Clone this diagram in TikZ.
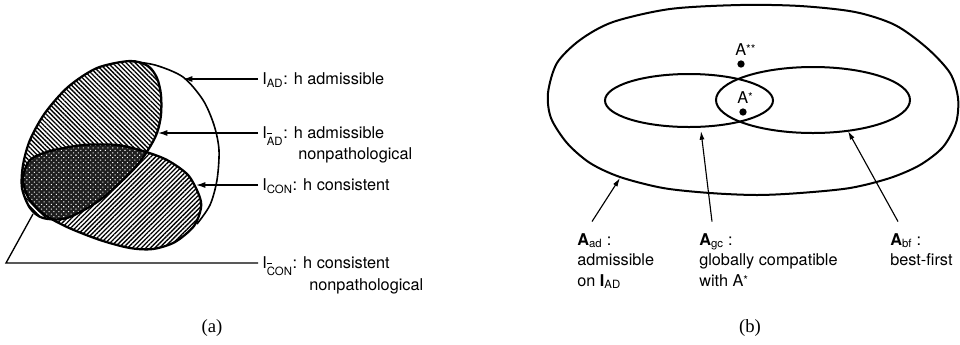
\documentclass[tikz,border=0pt]{standalone}
\usepackage{fontspec}
\setmainfont{TeX Gyre Heros}
\newfontfamily\capfont{Liberation Serif}
\usetikzlibrary{arrows.meta,patterns.meta}
\newcommand\barsub[1]{\textsubscript{\rlap{\hspace{0.4pt}\raisebox{8.6pt}{\rule{3.2pt}{0.7pt}}}#1}}
\newcommand\starmark[1]{{\raisebox{1.2pt}{\fontsize{9pt}{9pt}\selectfont #1}}}
\tikzset{
  lab/.style={font=\fontsize{12.2pt}{14pt}\selectfont, inner xsep=3pt, inner ysep=0pt, text height=8.5pt, text depth=0pt, anchor=west},
  blab/.style={font=\fontsize{12.2pt}{14pt}\selectfont, inner sep=0pt, anchor=base west},
  arra/.style={line width=1pt, -{Latex[length=7pt,width=4.5pt]}},
  arrb/.style={line width=0.85pt, -{Latex[length=6.5pt,width=3.8pt]}},
  region/.style={line width=1.7pt},
  ring/.style={line width=1.5pt},
  ptdot/.style={circle, fill, inner sep=0pt, minimum size=5.5pt},
  capt/.style={font=\capfont\fontsize{14pt}{16pt}\selectfont, inner sep=0pt}
}
\def\Upath{plot[smooth cycle] coordinates {(130,61) (148,66) (157,78) (161,95) (161,115) (157,133) (148,150) (133,170) (100,200) (67,218) (43,218) (30,208) (22,188) (23,165) (30,140) (45,113) (68,87) (97,68)}}
\def\Lpath{plot[smooth cycle] coordinates {(23,178) (30,160) (50,151) (83,145) (117,145) (143,151) (167,160) (188,175) (199,195) (201,208) (194,226) (175,242) (153,249) (130,248) (100,240) (67,227) (42,213) (28,197)}}
\begin{document}
\begin{tikzpicture}[x=0.75pt,y=-0.75pt]
\useasboundingbox (0,0) rectangle (960,344);
% ---------- panel (a) ----------
\path[pattern={Lines[angle=-45,distance=2.4pt,line width=1pt]}] \Upath;
\path[pattern={Lines[angle=45,distance=2.4pt,line width=1pt]}] \Lpath;
\begin{scope}
  \clip \Upath;
  \fill[black!88] \Lpath;
  \path[pattern={Dots[angle=45,distance=2.6pt,radius=0.55pt]}, pattern color=white] \Lpath;
\end{scope}
\draw[line width=1.2pt] plot[smooth] coordinates {(128,61) (155,65) (183,77) (203,100) (214,125) (219,150) (217,180) (210,205) (197,224)};
\draw[region] \Upath;
\draw[region] \Lpath;

\coordinate (tAD) at (183,79);
\coordinate (tADb) at (158,133);
\coordinate (tCON) at (196,185);
\coordinate (cCONb) at (6,263);
\coordinate (tCONb) at (33,214);

\node[lab] (lAD) at (258,79) {I\textsubscript{AD}: h admissible};
\node[lab] (lADb) at (258,133) {I\barsub{AD}: h admissible};
\node[lab] (lADb2) at (294,154) {nonpathological};
\node[lab] (lCON) at (258,185) {I\textsubscript{CON}: h consistent};
\node[lab] (lCONb) at (258,263) {I\barsub{CON}: h consistent};
\node[lab] (lCONb2) at (305,285) {nonpathological};

\draw[arra] (lAD.west) -- (tAD);
\draw[arra] (lADb.west) -- (tADb);
\draw[arra] (lCON.west) -- (tCON);
\draw[line width=1pt] (lCONb.west) -- (cCONb) -- (tCONb);

\node[capt] (capa) at (212,328) {(a)};

% ---------- panel (b) ----------
\draw[ring] plot[smooth cycle] coordinates {(740,5) (800,6) (855,12) (895,25) (927,48) (950,73) (958,98) (956,123) (943,147) (920,165) (890,178) (850,188) (800,193) (757,195) (710,193) (663,188) (620,177) (590,163) (567,143) (551,118) (548,93) (557,63) (580,40) (613,22) (670,9)};
\draw[ring] (689,100.5) ellipse (84 and 26.5);
\draw[ring] (813,100) ellipse (97 and 33);

\node[ptdot] (dss) at (741,64) {};
\node[ptdot] (ds) at (743,112) {};
\node[blab] (lss) at (735,55) {A\starmark{**}};
\node[blab] (ls) at (737,103) {A\starmark{*}};

\coordinate (tad) at (620,178);
\coordinate (tgc) at (701,131);
\coordinate (tbf) at (848,131);

\node[blab] (lad) at (577,245) {\textbf{A}\textsubscript{ad} :};
\node[blab] (lad2) at (577,265) {admissible};
\node[blab] (lad3) at (577,286) {on \textbf{I}\textsubscript{AD}};
\node[blab] (lgc) at (699,245) {\textbf{A}\textsubscript{gc} :};
\node[blab] (lgc2) at (699,265) {globally compatible};
\node[blab] (lgc3) at (699,286) {with A\starmark{*}};
\node[blab] (lbf) at (890,245) {\textbf{A}\textsubscript{bf} :};
\node[blab] (lbf2) at (890,265) {best-first};

\draw[arrb] ([xshift=11.25pt,yshift=8.5pt]lad.north west) -- (tad);
\draw[arrb] ([xshift=9.75pt,yshift=8.5pt]lgc.north west) -- (tgc);
\draw[arrb] ([xshift=6pt,yshift=8.5pt]lbf.north west) -- (tbf);

\node[capt] (capb) at (750,328) {(b)};
\end{tikzpicture}
\end{document}
